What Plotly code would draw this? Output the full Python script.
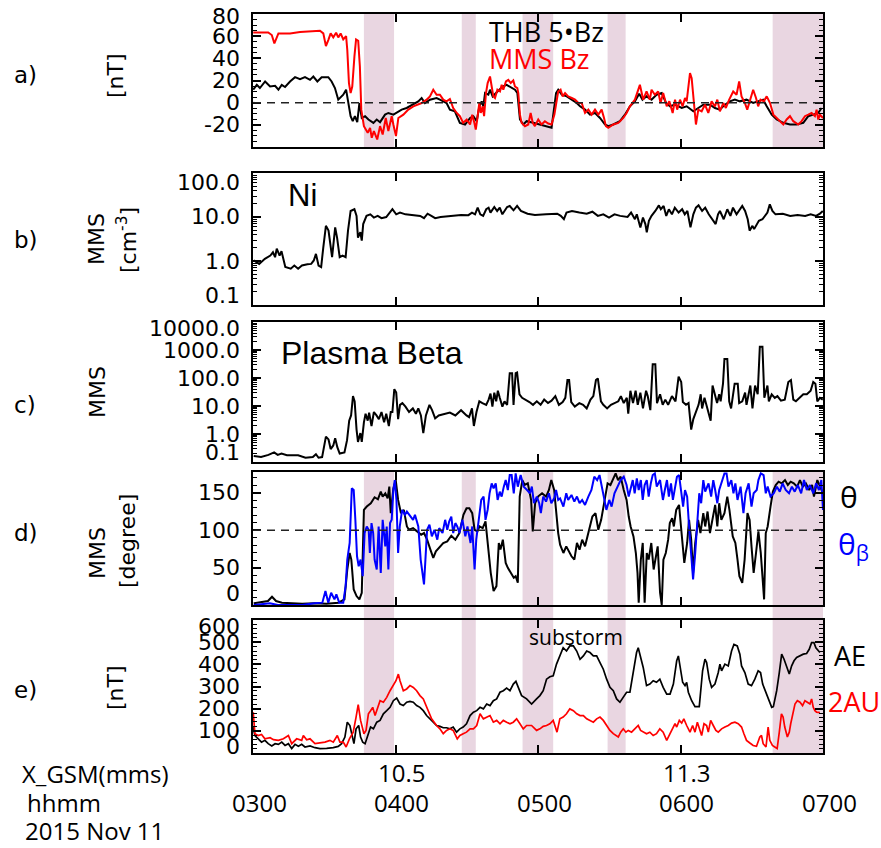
import math
import plotly.graph_objects as go

# ---------------- data (time in minutes after 03:00 UT, 2015 Nov 11) ----------------
SHADE_START = [46.7, 87.9, 113.5, 149.3, 218.8]
SHADE_END = [59.4, 93.8, 126.4, 156.9, 240.0]

HOUR_T = [0, 60, 120, 180, 240]
HOUR_LABELS = ["0300", "0400", "0500", "0600", "0700"]
XGSM_T = [60, 180]
XGSM_LABELS = ["10.5", "11.3"]

THB_5BZ = [(0.1,11.7),(1.6,16.1),(2.9,13.2),(5.1,19.1),(7.2,14.6),(9.3,15.2),(10.7,11.7),(12.1,16.1),(13.5,14.1),(15.6,19.1),(17.7,23.0),(19.8,21.2),(21.9,23.0),(24.0,20.6),(25.4,23.6),(27.1,19.1),(28.9,23.0),(31.7,23.0),(33.1,19.1),(34.5,13.2),(35.9,2.7),(38.0,7.2),(39.2,11.7),(40.1,-0.3),(41.1,-12.2),(42.0,-16.7),(42.9,-12.2),(43.9,-17.6),(44.8,-0.3),(45.8,-13.8),(47.2,-12.2),(48.6,-15.2),(50.7,-18.2),(52.1,-15.2),(53.5,-17.6),(55.6,-10.8),(57.0,-9.3),(59.1,-10.8),(60.5,-9.3),(62.6,-6.3),(64.7,-4.8),(67.5,-1.8),(69.6,1.2),(71.0,4.2),(72.4,-0.3),(74.5,2.7),(77.3,4.2),(78.7,2.7),(81.5,-0.3),(82.9,-6.3),(85.0,-7.8),(87.1,-18.2),(89.3,-19.7),(91.4,-13.8),(92.8,-12.2),(94.2,-16.7),(95.3,-3.3),(96.3,1.2),(97.0,-3.3),(97.7,8.7),(99.1,7.2),(99.8,11.7),(100.9,5.7),(102.3,8.7),(103.7,11.7),(105.1,14.6),(106.8,16.1),(108.9,13.2),(110.3,11.7),(111.3,8.7),(112.4,-15.2),(113.8,-19.7),(115.2,-16.7),(118.0,-18.2),(120.8,-19.7),(123.6,-21.2),(125.7,-22.7),(126.7,-6.3),(127.6,8.7),(128.5,11.7),(130.0,7.2),(132.1,5.7),(134.2,2.7),(136.3,-0.3),(137.7,-3.3),(139.8,-6.3),(141.9,-10.8),(144.0,-9.3),(146.1,-13.8),(148.2,-19.7),(149.6,-21.2),(151.7,-19.7),(154.5,-16.7),(156.6,-10.8),(158.7,-3.3),(160.8,1.2),(162.6,8.0),(164.0,2.7),(165.7,5.7),(167.8,2.7),(169.9,7.2),(172.1,8.7),(173.9,-0.3),(175.6,-3.3),(177.7,-1.8),(180.5,-4.8),(182.6,-3.3),(185.4,-7.8),(187.5,-4.8),(189.6,-1.8),(192.4,-1.8),(194.5,-4.8),(196.6,-6.3),(198.7,-1.8),(200.8,1.2),(202.9,2.7),(205.0,1.2),(207.8,2.7),(210.6,-0.3),(212.7,1.2),(214.8,2.7),(216.3,-3.3),(218.4,-10.8),(220.5,-15.2),(223.3,-18.2),(226.1,-19.7),(228.9,-19.7),(231.7,-18.2),(233.8,-12.2),(235.9,-10.8),(238.0,-9.3),(239.4,-4.8)]

MMS_BZ = [(0.1,63.4),(6.4,63.4),(7.9,61.0),(9.0,53.5),(10.7,62.5),(15.6,62.5),(19.8,63.7),(24.0,64.0),(28.2,64.9),(29.6,62.5),(30.7,51.1),(31.7,56.5),(32.7,62.5),(33.8,58.9),(35.0,63.1),(35.9,58.9),(36.9,62.5),(38.0,57.1),(39.2,60.1),(39.7,47.5),(40.4,17.7),(41.1,8.7),(41.8,14.6),(42.7,41.5),(43.4,57.1),(44.3,55.9),(45.0,32.6),(45.6,-6.3),(46.7,-21.2),(48.3,-27.2),(49.3,-22.7),(50.0,-31.7),(50.9,-25.7),(52.3,-33.2),(53.5,-21.2),(54.6,-28.7),(55.9,-13.8),(57.0,-25.7),(58.4,-12.2),(59.1,-19.7),(60.2,-30.2),(61.2,-13.8),(63.3,-10.8),(65.4,-6.3),(67.5,-3.3),(71.0,-0.3),(73.1,2.7),(74.5,5.7),(75.9,11.7),(77.3,7.2),
          (78.7,7.2),(80.1,2.7),(81.5,1.2),(82.9,3.3),(84.3,-4.8),(85.8,-9.3),(87.1,-12.2),(88.5,-18.2),(90.0,-15.2),(91.4,-19.7),(92.3,-10.8),(93.2,-18.2),(93.8,-24.2),(94.4,-15.2),(95.3,-0.3),(95.9,-9.3),(96.7,-3.3),(97.3,-12.2),(98.1,8.7),(98.8,17.7),(99.8,23.6),(100.5,14.6),(101.2,5.7),(101.9,4.2),(102.9,11.7),(104.0,10.1),(104.7,16.1),(105.4,11.7),(106.5,19.1),(107.5,20.6),(108.5,17.7),(109.6,20.0),(110.3,14.6),(111.3,13.2),(111.7,8.7),(112.4,-10.8),(113.1,-18.2),(114.5,-21.2),(115.9,-19.7),(116.9,-9.3),(117.8,-18.2),(118.7,-21.2),(120.1,-15.2),(121.5,-19.7),(122.9,-16.7),(124.3,-18.8),(125.7,-19.7),(126.9,-10.8),(127.8,2.7),(128.5,10.1),(129.5,11.7),(130.4,5.7),(131.4,8.7),(132.7,5.7),(134.2,4.2),(135.6,2.7),(137.0,-0.3),(138.4,-0.3),(139.8,-9.3),(141.2,-6.3),(142.6,-10.8),(144.0,-6.3),(145.4,-10.8),(146.8,-6.3),(147.8,-13.8),(148.6,-21.2),(149.6,-22.7),(151.7,-19.7),(153.8,-18.2),(155.9,-13.8),(157.3,-9.3),(158.7,-3.3),(160.8,2.7),(162.6,13.2),
          (162.9,16.1),(164.3,2.7),(165.7,10.1),(167.1,2.7),(167.8,11.7),(169.2,7.2),(170.6,10.1),(171.6,-0.3),(172.7,8.7),(174.2,-3.3),(175.3,1.2),(176.7,-9.3),(177.7,2.7),(178.6,-6.3),(179.8,2.7),(180.9,-3.3),(181.9,4.2),(182.6,1.2),(183.3,14.6),(184.0,26.6),(184.7,22.1),(185.4,2.7),(186.5,-19.7),(187.5,-6.3),(188.9,-7.8),(190.3,-1.8),(191.7,-9.3),(193.1,1.2),(194.5,-3.3),(195.5,2.7),(196.6,-7.8),(198.0,-0.3),(199.1,-4.8),(200.5,2.7),(202.2,10.1),(203.6,7.2),(204.7,19.1),(205.7,5.7),(207.1,-0.3),(208.1,-6.3),(209.5,2.7),(210.6,11.7),(211.8,4.2),(212.7,-3.3),(213.7,2.7),(215.1,1.2),(216.3,5.7),(217.7,-0.3),(219.1,-10.8),(220.5,-13.8),(221.9,-16.7),(223.3,-19.7),(224.7,-15.2),(226.1,-12.2),(227.5,-16.7),(229.6,-19.7),(231.0,-16.7),(232.4,-12.2),(233.8,-10.8),(235.2,-9.3),(236.6,-12.2),(237.3,-6.3),(238.0,-15.2),(238.7,-10.8),(240.0,-13.8)]

NI = [(0.3,1.03),(2.6,0.86),(5.0,1.12),(7.3,1.33),(8.4,1.58),(9.3,1.22),(10.0,1.9),(11.2,1.33),(12.0,1.67),(12.8,1.12),(13.6,0.73),(15.9,0.67),(17.4,0.79),(19.0,0.67),(20.6,0.79),(22.9,0.84),(24.5,0.86),(25.6,1.03),(26.5,1.45),(27.6,0.79),(28.7,0.73),(29.6,2.05),(30.7,6.3),(31.8,4.9),(33.3,1.22),(34.6,5.8),(35.4,3.4),(36.5,1.22),(37.7,1.33),(39.0,1.22),(40.0,4.9),(41.1,13.7),(42.7,15.0),(43.6,10.6),(44.2,3.4),(45.2,4.5),(45.8,2.9),(46.4,6.9),(47.8,10.6),(49.4,11.5),(50.9,9.7),(52.5,10.6),(54.1,9.4),(56.1,10.0),(57.6,12.6),(58.7,15.0),(60.3,11.5),(61.9,12.6),(64.2,11.5),(67.3,11.1),(70.4,10.6),(72.0,9.4),(73.5,11.9),(75.1,10.6),(76.7,9.4),(79.0,10.0),(82.9,10.6),(87.6,11.1),(90.7,11.0),(92.2,12.6),(93.5,11.5),(94.6,16.3),(95.7,11.5),(96.9,10.6),(98.2,15.0),(99.2,16.3),(100.0,12.6),(101.6,16.9),(102.8,13.7),(103.9,16.3),(105.0,11.5),(107.0,16.9),(108.1,17.8),(109.7,14.2),(111.2,17.8),(112.8,13.7),(115.6,11.9),(118.7,11.1),(123.4,11.5),(128.1,11.9),(129.6,10.6),(130.9,8.9),(132.0,12.6),(134.3,13.7),(137.4,12.6),(140.5,11.9),(142.9,13.2),(145.2,10.6),(147.5,11.5),(149.9,9.7),(152.2,11.5),(154.6,10.6),(157.7,10.0),(159.2,12.6),(160.8,8.9),(161.6,11.5),(163.1,5.8),(164.2,9.7),(165.2,6.9),(165.8,4.5),(166.7,8.2),(167.8,10.6),(169.4,13.7),(170.9,18.4),(171.7,15.0),(172.9,17.8),(174.0,10.6),(175.1,15.0),(176.4,11.5),(177.6,16.3),(179.2,12.6),(180.7,15.0),(181.8,11.5),(182.9,13.7),(184.2,5.8),(185.4,11.5),(186.5,16.3),(187.6,18.4),(189.1,13.7),(190.4,16.3),(191.9,11.5),(194.8,6.9),(195.8,11.5),(196.6,13.7),(198.2,8.9),(199.7,15.0),(201.0,10.6),(202.1,16.3),(203.6,11.5),(206.0,17.8),(207.2,13.7),(208.3,8.9),(209.1,4.9),(210.3,6.3),(211.0,5.3),(213.0,8.2),(214.5,8.9),(215.6,10.6),(216.6,12.6),(217.6,19.4),(218.7,13.7),(220.0,11.5),(223.1,11.9),(226.2,10.6),(229.3,11.1),(232.5,10.6),(234.8,11.5),(237.1,10.6),(238.7,11.9),(239.9,13.7)]

BETA = [(0.3,0.164),(3.4,0.15),(6.5,0.18),(8.9,0.22),(10.4,0.18),(12.0,0.20),(14.3,0.176),(19.0,0.173),(22.1,0.142),(25.2,0.15),(26.5,0.19),(27.6,0.142),(29.1,0.15),(30.7,0.81),(31.8,0.64),(32.7,0.29),(33.8,0.39),(34.6,0.70),(35.5,0.34),(36.5,0.20),(38.5,0.22),(39.6,0.60),(40.5,3.0),(41.3,4.6),(42.1,22.6),(42.8,14.7),(43.6,1.44),(44.2,0.52),(45.2,1.08),(45.8,0.52),(46.7,2.6),(47.4,5.3),(48.3,3.0),(48.9,5.8),(49.9,1.93),(50.9,6.1),(52.0,4.6),(53.0,3.4),(54.1,6.1),(55.2,2.6),(56.1,5.3),(57.2,1.93),(58.0,6.1),(58.7,6.1),(59.5,40),(60.3,30),(61.1,3.4),(61.9,11.0),(62.9,12.7),(64.2,9.5),(65.7,6.1),(67.3,8.2),(68.6,5.3),(69.6,8.2),(70.7,4.6),(71.7,1.08),(72.8,4.6),(74.3,11.0),(75.4,7.1),(76.7,3.6),(78.2,4.6),(80.5,5.3),(82.9,5.8),(85.2,4.6),(87.6,7.1),(89.9,4.6),(91.0,4.0),(92.2,8.2),(93.0,1.93),(94.1,6.1),(95.3,14.7),(96.6,12.7),(98.2,11.0),(99.2,16.9),(100.0,27.7),(100.8,9.5),(101.6,30),(102.4,14.7),(103.1,35),(103.9,19.6),(105.0,9.5),(105.9,14.7),(107.0,11.0),(108.1,149),(109.1,149),(109.7,11.0),(110.6,149),(111.2,158),(112.2,26.2),(113.3,19.6),(114.8,16.9),(116.4,13.8),(117.9,11.0),(119.5,14.7),(121.1,11.0),(122.6,16.9),(124.2,12.7),(125.7,15.5),(127.3,22.6),(128.8,11.0),(130.4,13.8),(131.5,19.6),(132.4,84),(133.1,84),(134.0,13.8),(135.5,9.5),(137.4,12.7),(139.0,11.0),(140.5,8.2),(142.1,16.9),(143.3,22.6),(144.4,84),(145.2,97),(146.5,14.7),(147.5,11.0),(149.1,8.2),(150.7,11.0),(152.2,12.7),(153.8,14.7),(154.9,22.6),(156.1,12.7),(157.4,19.6),(158.0,5.3),(158.9,35),(160.0,12.7),(161.1,35),(162.0,11.0),(163.1,30),(164.2,8.2),(165.5,35),(166.2,22.6),(167.3,7.1),(168.3,308),(169.4,308),(170.1,12.7),(171.4,26.2),(172.5,11.0),(173.6,16.9),(174.8,11.0),(176.4,22.6),(177.9,14.7),(179.2,112),(180.3,72),(181.0,13.8),(182.3,11.0),(183.4,12.7),(184.5,1.44),(185.4,3.4),(186.5,6.1),(187.6,11.0),(188.5,26.2),(189.1,8.2),(190.1,19.6),(191.2,8.2),(191.9,5.3),(192.7,3.0),(193.5,54),(194.3,26.2),(195.4,12.7),(196.3,26.2),(196.9,14.7),(197.9,62.5),(198.5,476),(199.7,476),(200.5,14.7),(201.3,8.2),(202.1,26.2),(202.8,62.5),(204.1,62.5),(204.7,12.7),(206.0,14.7),(207.2,30),(207.8,11.0),(208.8,26.2),(209.4,54),(210.3,8.2),(211.4,54),(212.5,26.2),(213.4,1312),(214.5,1312),(215.3,19.6),(216.6,54),(217.2,14.7),(218.4,26.2),(219.7,19.6),(220.8,22.6),(222.3,15.5),(223.9,16.9),(225.4,72),(226.5,84),(227.5,16.9),(228.6,14.7),(230.1,19.6),(231.7,26.2),(233.2,26.2),(234.8,35),(235.9,72),(236.8,62.5),(237.6,14.7),(238.7,19.6),(239.9,16.9)]

THETA = [(0.3,2.2),(3.7,4.0),(6.3,5.3),(8.0,11.1),(9.7,5.3),(12.2,3.1),(15.6,2.2),(20.7,1.8),(25.8,2.2),(30.9,1.8),(36.0,3.1),(38.5,7.5),(39.7,47.5),(40.7,69.6),(41.4,60.8),(42.4,20.8),(43.6,12.0),(44.8,7.5),(45.8,16.4),(46.7,127.3),(47.9,131.7),(49.6,136.2),(51.2,144.2),(52.6,141.5),(53.8,151.7),(54.6,145.1),(55.7,149.5),(56.7,142.8),(57.4,158.4),(58.0,122.9),(59.1,156.1),(60.1,167.2),(61.1,140.6),(62.3,122.9),(63.5,127.3),(64.8,105.1),(65.7,100.7),(67.4,102.9),(69.1,98.5),(70.8,94.0),(72.0,96.3),(73.3,87.4),(74.7,74.1),(75.9,63.0),(77.0,71.9),(78.4,76.3),(80.1,83.0),(81.8,85.2),(83.5,92.7),(85.2,87.4),(86.9,96.3),(88.6,120.7),(89.9,129.5),(91.1,129.5),(92.3,122.9),(93.3,100.7),(94.5,98.5),(95.4,105.1),(96.7,102.9),(97.9,111.8),(99.1,69.6),(100.1,43.0),(101.3,18.6),(102.5,25.3),(103.5,83.0),(104.2,74.1),(105.2,87.4),(106.4,56.3),(107.3,49.7),(108.6,43.0),(109.8,36.4),(110.6,38.6),(111.5,29.7),(112.3,145.1),(113.4,167.2),(114.4,160.6),(115.7,162.8),(117.1,140.6),(117.8,98.5),(118.8,136.2),(120.0,145.1),(121.7,149.5),(123.4,145.1),(124.6,153.9),(125.6,167.2),(126.8,153.9),(127.6,127.3),(128.5,96.3),(129.3,80.7),(130.7,69.6),(131.9,78.5),(132.7,74.1),(134.1,65.2),(135.3,60.8),(136.4,83.0),(137.5,74.1),(138.6,87.4),(139.8,78.5),(140.9,91.8),(142.0,105.1),(142.9,118.4),(144.2,122.9),(145.4,100.7),(146.6,114.0),(148.0,140.6),(149.3,162.8),(150.5,160.6),(151.7,169.5),(152.7,176.1),(153.7,167.2),(154.8,171.7),(156.1,153.9),(157.3,140.6),(158.2,118.4),(159.0,105.1),(160.2,91.8),(161.2,69.6),(161.9,43.0),(162.4,3.1),(163.3,60.8),(164.1,83.0),(164.9,3.1),(165.8,69.6),(166.6,60.8),(167.7,83.0),(168.7,47.5),(169.7,65.2),(170.4,78.5),(171.4,16.4),(172.1,0.0),(172.8,60.8),(173.8,69.6),(174.8,87.4),(175.5,109.6),(176.5,116.2),(177.2,105.1),(178.2,127.3),(179.4,134.0),(180.2,105.1),(181.6,56.3),(182.8,83.0),(183.6,114.0),(184.5,87.4),(185.3,43.0),(186.2,83.0),(187.4,114.0),(188.4,96.3),(189.6,122.9),(190.4,105.1),(191.4,125.1),(192.4,96.3),(193.5,114.0),(194.6,134.0),(195.5,105.1),(196.3,136.2),(197.2,114.0),(198.5,122.9),(199.7,145.1),(200.6,127.3),(202.0,91.8),(203.1,83.0),(204.0,60.8),(204.8,38.6),(206.0,29.7),(207.0,60.8),(208.2,122.9),(209.1,114.0),(209.9,78.5),(210.8,43.0),(211.8,69.6),(212.8,98.5),(213.8,69.6),(214.5,38.6),(215.2,7.5),(215.9,96.3),(216.7,105.1),(217.9,131.7),(218.9,151.7),(220.1,160.6),(221.3,165.0),(222.6,162.8),(224.0,167.2),(225.2,160.6),(226.4,165.0),(227.7,162.8),(229.1,158.4),(230.3,167.2),(231.5,158.4),(232.8,162.8),(234.2,153.9),(235.4,160.6),(236.2,145.1),(237.6,167.2),(238.8,158.4),(240.0,149.5)]

THETA_B = [(0.3,0.0),(7.1,2.2),(10.5,0.0),(15.6,0.4),(20.7,0.0),(25.8,2.2),(29.2,3.1),(30.5,18.6),(31.7,3.1),(32.9,16.4),(34.3,7.5),(35.1,14.2),(36.3,3.1),(38.0,3.1),(39.0,25.3),(39.7,60.8),(40.7,83.0),(41.6,156.1),(42.4,153.9),(43.1,114.0),(43.8,65.2),(44.5,51.9),(45.3,60.8),(46.2,38.6),(47.0,96.3),(47.9,105.1),(48.7,100.7),(49.2,69.6),(49.9,109.6),(50.6,96.3),(51.2,60.8),(52.1,47.5),(52.9,105.1),(53.8,43.0),(54.6,114.0),(55.7,78.5),(56.3,105.1),(57.0,47.5),(57.7,109.6),(58.4,114.0),(59.1,153.9),(59.7,167.2),(60.4,140.6),(61.1,69.6),(61.8,105.1),(62.8,127.3),(64.0,120.7),(64.8,125.1),(66.2,118.4),(67.4,114.0),(68.2,120.7),(69.6,105.1),(70.6,60.8),(71.3,40.8),(72.0,27.5),(72.6,60.8),(73.3,100.7),(74.3,107.4),(75.3,91.8),(76.4,100.7),(77.6,87.4),(78.4,102.9),(79.8,96.3),(80.9,114.0),(81.8,100.7),(82.6,111.8),(83.5,118.4),(84.3,96.3),(85.2,109.6),(86.0,105.1),(86.9,96.3),(88.2,114.0),(89.4,91.8),(90.3,105.1),(91.6,83.0),(92.3,105.1),(93.3,47.5),(94.0,87.4),(95.0,116.2),(96.1,140.6),(97.1,145.1),(97.9,114.0),(98.8,127.3),(99.6,149.5),(100.5,162.8),(101.3,156.1),(102.2,162.8),(103.0,140.6),(103.9,151.7),(104.7,145.1),(105.6,158.4),(106.4,167.2),(107.3,153.9),(108.1,173.9),(108.9,173.9),(109.8,149.5),(110.6,176.1),(111.5,158.4),(112.7,173.9),(114.0,158.4),(115.4,153.9),(116.6,149.5),(117.4,158.4),(118.3,136.2),(119.5,145.1),(120.5,136.2),(121.2,122.9),(122.2,145.1),(123.4,138.4),(124.6,149.5),(125.6,136.2),(126.8,142.8),(127.6,153.9),(128.5,140.6),(129.3,142.8),(130.7,131.7),(131.9,149.5),(132.7,140.6),(134.1,147.3),(135.3,138.4),(136.4,145.1),(137.5,136.2),(138.6,140.6),(139.8,134.0),(141.2,145.1),(142.5,153.9),(143.7,171.7),(144.9,167.2),(145.9,173.9),(147.1,153.9),(148.0,136.2),(148.8,127.3),(150.0,140.6),(151.0,131.7),(152.2,149.5),(153.4,158.4),(154.8,167.2),(156.1,171.7),(157.3,160.6),(158.2,145.1),(159.0,153.9),(159.9,167.2),(160.7,149.5),(161.6,169.5),(162.4,153.9),(163.3,167.2),(164.1,140.6),(164.9,160.6),(165.8,167.2),(166.6,145.1),(167.5,162.8),(168.3,173.9),(169.2,176.1),(170.0,158.4),(171.4,167.2),(172.6,140.6),(173.4,153.9),(174.3,167.2),(175.1,145.1),(176.0,162.8),(176.8,140.6),(177.7,158.4),(178.5,171.7),(179.4,173.9),(180.2,153.9),(181.1,131.7),(181.9,153.9),(182.8,145.1),(183.6,105.1),(184.5,60.8),(185.3,34.2),(186.2,69.6),(187.0,114.0),(187.9,149.5),(188.7,136.2),(189.6,167.2),(190.4,151.7),(191.8,162.8),(192.9,145.1),(193.8,167.2),(194.6,153.9),(195.5,136.2),(196.3,153.9),(197.5,167.2),(198.5,176.1),(199.4,176.1),(200.2,158.4),(201.4,167.2),(202.3,149.5),(203.1,162.8),(204.0,140.6),(205.3,158.4),(206.5,122.9),(207.4,149.5),(208.7,162.8),(209.9,131.7),(210.8,149.5),(212.1,153.9),(212.8,167.2),(213.8,176.1),(215.0,173.9),(215.9,149.5),(216.7,158.4),(217.9,145.1),(219.3,149.5),(220.6,158.4),(221.8,151.7),(223.0,162.8),(224.3,153.9),(225.7,149.5),(226.9,158.4),(228.1,151.7),(229.4,160.6),(230.8,149.5),(232.0,167.2),(233.2,153.9),(234.5,160.6),(235.9,149.5),(237.1,162.8),(238.3,153.9),(239.3,167.2),(240.0,127.3)]

AE = [(0.1,117),(0.8,79),(2.2,64),(3.6,49),(5.0,57),(6.4,42),(7.9,32),(9.3,42),(10.7,39),(12.1,49),(13.5,34),(14.9,42),(16.3,20),(17.7,39),(19.1,30),(20.5,39),(21.9,27),(24.0,32),(26.1,24),(28.2,20),(31.0,21),(33.8,24),(35.9,30),(37.3,42),(38.7,72),(39.7,139),(40.8,124),(41.7,72),(42.5,42),(43.4,109),(44.5,124),(45.3,72),(46.2,49),(47.2,42),(48.1,72),(49.5,117),(50.7,109),(52.1,139),(53.5,147),(54.9,177),(56.3,191),(57.7,206),(59.1,236),(60.5,248),(61.9,221),(63.3,214),(64.7,229),(66.1,233),(67.5,229),(68.9,214),(70.3,206),(71.7,191),(73.1,169),(74.5,154),(75.9,139),(77.3,124),(78.7,120),(80.1,114),(81.5,114),(82.9,109),(84.3,117),(85.7,94),(87.1,109),(88.5,117),(89.9,132),(91.4,169),(92.8,184),(94.2,191),(95.6,206),(97.0,199),(98.4,221),(99.8,214),(101.2,236),(102.6,244),(104.0,274),(105.4,281),(106.8,293),(108.2,281),(109.6,311),(110.7,323),(111.7,296),(113.1,259),(115.2,244),(117.3,221),(119.4,244),
      (120.8,259),(122.2,281),(123.6,333),(125.0,344),(126.4,348),(127.8,401),(129.2,438),(130.6,475),(132.0,460),(133.4,483),(134.9,483),(136.3,460),(137.7,423),(139.1,438),(140.5,460),(141.9,453),(143.3,438),(144.7,438),(146.1,408),(147.5,378),(148.9,333),(150.3,296),(151.7,281),(153.1,244),(154.5,229),(155.9,251),(157.3,274),(158.7,274),(160.1,356),(161.5,453),(162.2,475),(162.9,446),(164.3,386),(165.7,304),(167.1,311),(168.5,326),(169.9,319),(171.3,333),(172.7,296),(174.2,266),(175.6,266),(177.0,311),(177.7,356),(178.4,416),(179.1,438),(179.8,393),(180.9,319),(181.9,304),(182.6,319),(183.3,274),(184.7,236),(186.1,209),(187.9,209),(189.3,371),(190.3,423),(191.0,408),(192.1,333),(193.1,296),(194.5,311),(195.9,363),(196.6,401),(197.3,371),(198.7,401),(200.1,393),(201.5,460),(202.5,490),(203.9,483),(205.0,446),(205.7,393),(207.1,363),(208.5,311),(209.9,304),(211.3,333),(212.7,371),(213.7,363),(214.6,311),(215.6,281),(216.9,244),(218.4,206),(219.1,209),(220.5,281),(221.6,363),(222.6,446),(223.6,423),(224.7,386),(225.8,356),(226.8,393),(227.8,416),(228.9,431),(230.3,438),(231.7,446),(233.1,449),(234.2,468),(235.2,498),(236.2,498),(237.0,475),(238.0,460),(238.7,453)]

AU2 = [(0.1,184),(0.8,87),(2.2,79),(3.6,84),(5.0,64),(7.2,69),(8.6,60),(10.7,57),(12.8,64),(14.9,79),(16.3,42),(18.4,64),(20.5,57),(21.2,79),(22.6,60),(24.0,64),(26.1,42),(28.2,45),(30.3,49),(32.4,57),(33.8,49),(35.5,79),(36.6,49),(38.0,49),(39.2,27),(40.6,64),(42.2,94),(43.4,162),(44.3,218),(45.3,147),(46.2,109),(46.7,87),(47.6,102),(48.6,177),(49.5,191),(50.4,206),(51.4,169),(52.3,199),(53.5,236),(54.9,229),(56.3,251),(57.7,281),(59.1,304),(60.2,326),(61.2,356),(61.9,326),(63.3,281),(64.7,289),(66.1,304),(67.5,296),(68.9,281),(70.3,259),(71.7,244),(73.1,206),(75.2,154),(77.3,124),(78.7,109),(80.1,87),(81.5,102),(82.9,109),(84.3,102),(86.0,64),(87.1,79),(88.5,87),(89.9,94),(91.4,109),(92.8,109),(94.2,124),(95.6,177),(97.0,154),(98.4,162),(99.8,169),(101.2,139),(102.6,147),(104.0,132),(105.4,147),(106.8,139),(108.2,132),(109.6,139),(111.0,154),(112.4,132),(113.8,109),(115.2,124),(117.3,124),(119.4,102),
       (120.8,109),(122.2,120),(123.6,124),(125.0,132),(126.4,147),(127.1,124),(128.0,94),(129.2,154),(130.6,162),(132.0,177),(133.4,199),(134.9,191),(136.3,177),(137.7,169),(139.1,169),(140.5,154),(141.9,147),(143.3,139),(144.7,154),(146.1,162),(147.5,147),(148.9,124),(150.3,102),(151.7,87),(153.1,79),(153.8,72),(154.8,94),(155.9,109),(157.0,94),(158.0,102),(159.4,94),(160.8,109),(162.2,124),(163.2,102),(164.3,94),(165.7,87),(167.1,94),(168.5,79),(169.9,87),(171.3,109),(172.7,94),(174.2,57),(175.6,87),(176.7,109),(177.7,132),(178.4,117),(179.5,147),(180.5,135),(181.4,154),(182.6,124),(184.0,94),(185.1,124),(186.1,94),(187.1,139),(187.9,109),(188.9,79),(189.9,132),(191.0,124),(191.7,94),(192.7,147),(193.8,124),(194.9,102),(195.9,94),(197.3,109),(198.7,117),(200.1,124),(201.5,135),(202.9,139),(204.3,132),(205.7,117),(206.7,87),(207.8,57),(209.2,45),(210.6,34),(212.0,30),(213.4,72),(214.1,79),(214.8,42),(216.0,27),(216.9,117),(217.6,57),(218.7,34),(219.7,27),(220.7,20),(221.6,94),(222.5,177),(223.2,162),(223.9,117),(225.0,72),(225.8,94),(226.4,132),(227.2,177),(228.2,221),(229.2,236),(230.3,229),(231.4,214),(232.4,236),(233.4,229),(234.5,221),(235.2,244),(235.9,206),(236.6,191),(237.3,184),(238.7,182)]

# y tick labels per panel
YT_A = ([-20, 0, 20, 40, 60, 80], ["-20", "0", "20", "40", "60", "80"])
YT_B = ([0.1, 1, 10, 100], ["0.1", "1.0", "10.0", "100.0"])
YT_C = ([0.1, 1, 10, 100, 1000, 10000], ["0.1", "1.0", "10.0", "100.0", "1000.0", "10000.0"])
YT_D = ([0, 50, 100, 150], ["0", "50", "100", "150"])
YT_E = ([0, 100, 200, 300, 400, 500, 600], ["0", "100", "200", "300", "400", "500", "600"])

# ---------------- layout geometry (pixels) ----------------
W, H = 881, 848
XL, XR = 253, 823
BOX = {"a": (14, 147), "b": (173, 305), "c": (322, 462), "d": (472, 605), "e": (620, 753)}
SHADE = "#e9d6e1"
DV = "DejaVu Sans"
CAL = "Open Sans"
AR = "Liberation Sans"


def px(x):
    return x / W


def py(y):
    return 1 - y / H


def dom(p):
    t, b = BOX[p]
    return [py(b), py(t)]


fig = go.Figure()


def add(series, ax, color, width=2.0):
    t, v = zip(*series)
    fig.add_trace(go.Scatter(x=list(t), y=list(v), xaxis="x" + ax, yaxis="y" + ax, mode="lines",
                             line=dict(color=color, width=width), showlegend=False, hoverinfo="skip"))


add(THB_5BZ, "", "black", 2)
add(MMS_BZ, "", "#ff0000", 2)
add(NI, "2", "black", 2)
add(BETA, "3", "black", 2)
add(THETA, "4", "black", 2)
add(THETA_B, "4", "#0000ff", 2)
add(AE, "5", "black", 1.7)
add(AU2, "5", "#ff0000", 1.7)

axbase = dict(showline=True, linecolor="black", linewidth=2, mirror="allticks", ticks="inside",
              tickcolor="black", tickwidth=2, showgrid=False, zeroline=False, showticklabels=False)
minor_lin = lambda d: dict(ticks="inside", dtick=d, tick0=0, ticklen=4, tickcolor="black", tickwidth=1.2)
minor_log = dict(ticks="inside", dtick="D1", ticklen=4, tickcolor="black", tickwidth=1.2)

layout = dict(width=W, height=H, autosize=False, margin=dict(l=0, r=0, t=0, b=0),
              paper_bgcolor="white", plot_bgcolor="rgba(0,0,0,0)", showlegend=False,
              font=dict(family=DV, color="black", size=20))
names = ["", "2", "3", "4", "5"]
panels = ["a", "b", "c", "d", "e"]
for n, p in zip(names, panels):
    xa = dict(axbase, range=[0, 240], tickvals=HOUR_T, ticklen=8, domain=[px(XL), px(XR)], anchor="y" + n)
    if n:
        xa["matches"] = "x"
    layout["xaxis" + n] = xa

layout["yaxis"] = dict(axbase, domain=dom("a"), anchor="x", range=[-40, 80], tickvals=YT_A[0], ticklen=8, minor=minor_lin(5))
layout["yaxis2"] = dict(axbase, domain=dom("b"), anchor="x2", type="log", range=[-1, 2], tickvals=YT_B[0], ticklen=8, minor=minor_log)
layout["yaxis3"] = dict(axbase, domain=dom("c"), anchor="x3", type="log", range=[-1, 4], tickvals=YT_C[0], ticklen=8, minor=minor_log)
layout["yaxis4"] = dict(axbase, domain=dom("d"), anchor="x4", range=[0, 178], tickvals=YT_D[0], ticklen=8, minor=minor_lin(10))
layout["yaxis5"] = dict(axbase, domain=dom("e"), anchor="x5", range=[0, 600], tickvals=YT_E[0], ticklen=8, minor=minor_lin(20))
fig.update_layout(**layout)

# shaded intervals
for s, e in zip(SHADE_START, SHADE_END):
    fig.add_shape(type="rect", xref="x", yref="y domain", x0=s, x1=e, y0=0, y1=1,
                  fillcolor=SHADE, line_width=0, layer="below")
    fig.add_shape(type="rect", xref="x4", yref="paper", x0=s, x1=e, y0=py(BOX["e"][1]), y1=py(BOX["d"][0]),
                  fillcolor=SHADE, line_width=0, layer="below")

# dashed reference lines
fig.add_shape(type="line", xref="x domain", yref="y", x0=0, x1=1, y0=0, y1=0,
              line=dict(color="#222", width=1.5, dash="8px,6px"))
fig.add_shape(type="line", xref="x4 domain", yref="y4", x0=0, x1=1, y0=100, y1=100,
              line=dict(color="#222", width=1.5, dash="8px,6px"))

ann = []
# y tick labels (edge labels nudged inward like the original)
EDGE_SHIFT = {("a", 5): -3, ("b", 0): 10, ("b", 3): -10, ("c", 0): 10, ("c", 5): -6,
              ("d", 0): 12, ("e", 0): 7, ("e", 6): -6}
ticksets = {"a": (YT_A, "y", False), "b": (YT_B, "y2", True), "c": (YT_C, "y3", True),
            "d": (YT_D, "y4", False), "e": (YT_E, "y5", False)}
for p, (yt, yref, islog) in ticksets.items():
    for i, (v, lab) in enumerate(zip(*yt)):
        ann.append(dict(x=px(XL - 11), xref="paper", xanchor="right", y=math.log10(v) if islog else v,
                        yref=yref, yanchor="middle", yshift=EDGE_SHIFT.get((p, i), 0), text=lab,
                        showarrow=False, font=dict(family=DV, size=22, color="black")))

# panel letters
for p, yc in zip(panels, [75, 240, 405, 533, 690]):
    ann.append(dict(x=px(12), xref="paper", xanchor="left", y=py(yc), yref="paper", yanchor="middle",
                    text=p + ")", showarrow=False, font=dict(family=DV, size=23)))

# rotated axis titles
def rot(text, xc, yc, color="black"):
    ann.append(dict(x=px(xc), y=py(yc), xref="paper", yref="paper", xanchor="center", yanchor="middle",
                    text=text, textangle=-90, showarrow=False, font=dict(family=DV, size=22, color=color)))

rot("[nT]", 115, 76)
rot("MMS", 97, 239)
rot("[cm<sup>-3</sup>]", 127, 240)
rot("MMS", 97, 392)
rot("MMS", 97, 553)
rot("[degree]", 127, 541)
rot("[nT]", 115, 688)

# in-panel labels
def txt(text, x, y, size, color="black", family=CAL, xanchor="left"):
    ann.append(dict(x=px(x), y=py(y), xref="paper", yref="paper", xanchor=xanchor, yanchor="middle",
                    text=text, showarrow=False, font=dict(family=family, size=size, color=color)))

txt("THB 5•Bz", 487, 32, 27)
txt("MMS Bz", 487, 59, 27, "#ff0000")
txt("Ni", 286, 195, 31, family=AR)
txt("Plasma Beta", 279, 353, 32, family=AR)
txt("θ", 838, 496, 30)
txt("θ<sub>β</sub>", 836, 545, 30, "#0000ff")
txt("substorm", 576, 637, 21, xanchor="center")
txt("AE", 832, 655, 27)
txt("2AU", 826, 701, 27, "#ff0000")

# x labels
for t, lab in zip(HOUR_T, HOUR_LABELS):
    ann.append(dict(x=t, xref="x5", y=py(802), yref="paper", xanchor="center", yanchor="middle", xshift=6,
                    text=lab, showarrow=False, font=dict(family=CAL, size=24)))
for t, lab in zip(XGSM_T, XGSM_LABELS):
    ann.append(dict(x=t, xref="x5", y=py(772), yref="paper", xanchor="center", yanchor="middle", xshift=6,
                    text=lab, showarrow=False, font=dict(family=CAL, size=24)))
txt("X_GSM(mms)", 20, 773, 24)
txt("hhmm", 25, 802, 24)
txt("2015 Nov 11", 23, 830, 24)

fig.update_layout(annotations=ann)
fig.write_html("out.html")
